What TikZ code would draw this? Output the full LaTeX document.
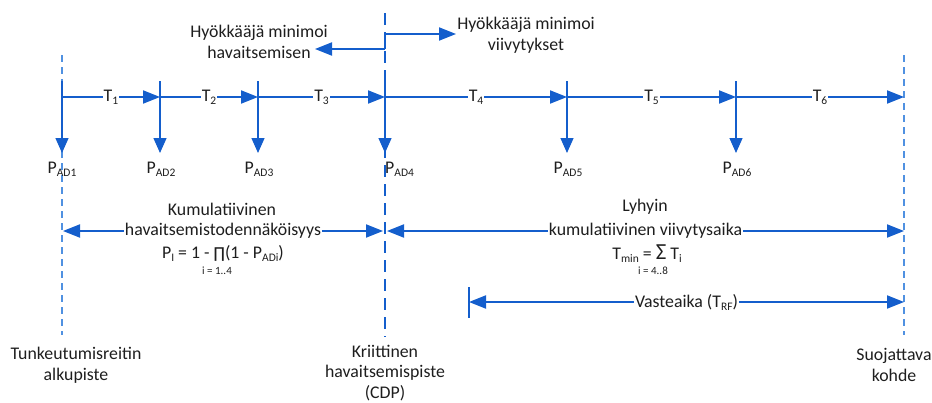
\documentclass[tikz,border=0pt]{standalone}
\usepackage{fontspec}
\setmainfont{Carlito}
\newfontfamily\symfont{DejaVu Sans}
\usetikzlibrary{arrows.meta}
\definecolor{lineblue}{RGB}{20,94,204}
\definecolor{guideblue}{RGB}{80,145,225}
\definecolor{txt}{RGB}{30,30,30}
\newcommand{\lowtxt}[1]{\raisebox{-0.35ex}{\fontsize{11.5}{11.5}\selectfont #1}}
\begin{document}
\begin{tikzpicture}[x=1pt,y=-1pt,
  every node/.style={font=\fontsize{17.8}{20.8}\selectfont, text=txt},
  head/.tip={Triangle[length=17pt,width=13pt]},
  axis/.style={draw=lineblue, line width=2pt, -head},
  tickline/.style={draw=lineblue, line width=1.3pt},
  drop/.style={tickline, -{Triangle[length=15pt,width=13pt]}},
  span/.style={draw=lineblue, line width=2pt, head-head},
  guide/.style={draw=guideblue, line width=1.2pt, dash pattern=on 7pt off 5pt},
  cdpline/.style={draw=lineblue, line width=2pt, dash pattern=on 12pt off 7pt},
  onln/.style={fill=white, inner sep=1pt},
  small/.style={font=\fontsize{11}{11}\selectfont},
  ]
\useasboundingbox (0,0) rectangle (932,402);

% vertical reference lines
\coordinate (g1t) at (62,55);  \coordinate (g1b) at (62,335);
\coordinate (g2t) at (904,55); \coordinate (g2b) at (904,335);
\coordinate (ct)  at (385,13); \coordinate (cb)  at (385,337);
\draw[guide] (g1t) -- (g1b);
\draw[guide] (g2t) -- (g2b);
\draw[cdpline] (ct) -- (cb);

% attacker strategy arrows at the CDP
\coordinate (ca) at (385,34); \coordinate (cc) at (385,49);
\coordinate (ra) at (456,34); \coordinate (la) at (315,49);
\draw[draw=lineblue, line width=2pt] (ca) -- (cc);
\draw[axis] (ca) -- (ra);
\draw[axis] (cc) -- (la);
\node[align=center] (hl) at (259,41.5) {Hyökkääjä minimoi\\havaitsemisen};
\node[align=center] (hr) at (526,35.5) {Hyökkääjä minimoi\\viivytykset};

% time axis points
\foreach \n/\x in {1/62,2/160,3/258,4/385,5/567,6/736,7/904}{
  \coordinate (p\n) at (\x,97);
  \coordinate (u\n) at (\x,81);
  \coordinate (d\n) at (\x,153);
}
\foreach \n in {1,...,6}{ \draw[drop] (u\n) -- (d\n); }
\draw[axis] (p1) -- node[onln] {T\lowtxt{1}} (p2);
\draw[axis] (p2) -- node[onln] {T\lowtxt{2}} (p3);
\draw[axis] (p3) -- node[onln] {T\lowtxt{3}} (p4);
\draw[axis] (p4) -- node[onln] {T\lowtxt{4}} (p5);
\draw[axis] (p5) -- node[onln] {T\lowtxt{5}} (p6);
\draw[axis] (p6) -- node[onln] {T\lowtxt{6}} (p7);

% detection probabilities
\node (pad1) at (62,169)  {P\lowtxt{AD1}};
\node (pad2) at (161,169) {P\lowtxt{AD2}};
\node (pad3) at (259,169) {P\lowtxt{AD3}};
\node[anchor=west, inner sep=0pt] (pad4) at (385,169) {P\lowtxt{AD4}};
\node (pad5) at (568,169) {P\lowtxt{AD5}};
\node (pad6) at (737,169) {P\lowtxt{AD6}};

% cumulative detection probability
\coordinate (cl) at (63,231); \coordinate (cr) at (383,231);
\draw[span] (cl) -- node[onln] (hv) {havaitsemistodennäköisyys} (cr);
\node (kum) at (222,209) {Kumulatiivinen};
\node (pi) at (223,253) {P\lowtxt{I} = 1 - {\symfont\fontsize{15}{15}\selectfont ∏}(1 - P\lowtxt{ADi})};
\node[small] (pii) at (217,271) {i = 1..4};

% shortest cumulative delay
\coordinate (dl) at (387,231); \coordinate (dr) at (904,231);
\draw[span] (dl) -- node[onln] (kv) {kumulatiivinen viivytysaika} (dr);
\node (ly) at (645,207) {Lyhyin};
\node (tm) at (647,254) {T\lowtxt{min} = {\fontsize{23}{23}\selectfont Σ} T\lowtxt{i}};
\node[small] (tmi) at (653,271) {i = 4..8};

% response time
\coordinate (vt) at (469,287); \coordinate (vb) at (469,318);
\coordinate (vl) at (469,302); \coordinate (vr) at (904,302);
\draw[tickline] (vt) -- (vb);
\draw[span] (vl) -- node[onln] (va) {Vasteaika (T\lowtxt{RF})} (vr);

% point names
\node[align=center] (start) at (76,365) {Tunkeutumisreitin\\alkupiste};
\node[align=center] (cdp) at (385,373) {Kriittinen\\havaitsemispiste\\(CDP)};
\node[align=center] (goal) at (894,365) {Suojattava\\kohde};
\end{tikzpicture}
\end{document}
